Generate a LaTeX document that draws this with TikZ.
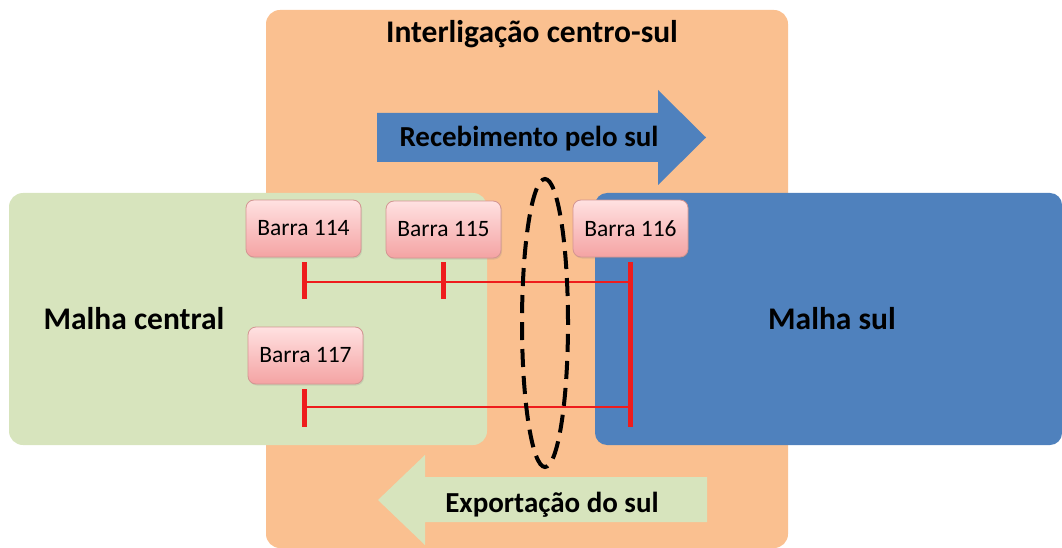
\documentclass[tikz,border=0pt]{standalone}
\usepackage{fontspec}
\setmainfont{Carlito}
\usetikzlibrary{shadows}
\definecolor{laranja}{HTML}{FAC090}
\definecolor{verde}{HTML}{D7E4BD}
\definecolor{azul}{HTML}{4F81BD}
\definecolor{rosaclaro}{HTML}{FFE1E1}
\definecolor{rosa}{HTML}{F4A3A3}
\definecolor{rosaborda}{HTML}{D39592}
\definecolor{vermelho}{HTML}{EE1C1C}
\tikzset{
	barra/.style={draw=rosaborda,line width=0.8pt,rounded corners=8pt,top color=rosaclaro,bottom color=rosa,
		drop shadow={opacity=0.2,shadow xshift=1pt,shadow yshift=-1.5pt},
		minimum width=115pt,minimum height=57pt,inner sep=0pt,font=\fontsize{23.5}{28}\selectfont},
	titulo/.style={anchor=base,inner sep=0pt,font=\fontsize{31.5}{36}\selectfont\bfseries},
	rotulo/.style={anchor=base,inner sep=0pt,font=\fontsize{29}{34}\selectfont\bfseries},
	bus/.style={draw=vermelho,line width=5pt},
	linha/.style={draw=vermelho,line width=2pt}
}
\begin{document}
\begin{tikzpicture}[x=1pt,y=-1pt]
			\useasboundingbox (0,0) rectangle (1062,548);
			% areas
			\fill[laranja,rounded corners=14pt] (266,10) rectangle (788,548);
			\fill[verde,rounded corners=14pt] (9,193) rectangle (487,445);
			\fill[azul,rounded corners=12pt] (595,193) rectangle (1062,445);
			% setas
			\fill[azul] (377,113) -- (658,113) -- (658,90) -- (706,137.5) -- (658,185) -- (658,162) -- (377,162) -- cycle;
			\fill[verde] (707,477) -- (425,477) -- (425,455) -- (378,500) -- (425,545) -- (425,522) -- (707,522) -- cycle;
			\node[titulo] (interlig) at (532,43) {Interligação centro-sul};
			\node[titulo] (central) at (134,329) {Malha central};
			\node[titulo] (sul) at (832,329) {Malha sul};
			\node[rotulo] (receb) at (529,146.5) {Recebimento pelo sul};
			\node[rotulo] (export) at (552,512) {Exportação do sul};
			% barras
			\node[barra] (b114) at (303.5,228.5) {Barra 114};
			\node[barra] (b115) at (443.5,229.5) {Barra 115};
			\node[barra] (b116) at (630.5,228.5) {Barra 116};
			\node[barra] (b117) at (305.5,355.5) {Barra 117};
			\coordinate (p114t) at (304,262);
			\coordinate (p114b) at (304,299);
			\coordinate (p114) at (304,282);
			\coordinate (p115t) at (443,262);
			\coordinate (p115b) at (443,299);
			\coordinate (p116t) at (630,262);
			\coordinate (p116b) at (630,427);
			\coordinate (p116) at (630,282);
			\coordinate (q116) at (630,407);
			\coordinate (p117t) at (304,389);
			\coordinate (p117b) at (304,427);
			\coordinate (p117) at (304,407);
			\draw[linha] (p114) -- (p116);
			\draw[linha] (p117) -- (q116);
			\draw[bus] (p114t) -- (p114b);
			\draw[bus] (p115t) -- (p115b);
			\draw[bus] (p116t) -- (p116b);
			\draw[bus] (p117t) -- (p117b);
			% corte
			\draw[line width=4pt,dash pattern=on 18pt off 9pt] (545,323) ellipse [x radius=23pt,y radius=144pt];
		\end{tikzpicture}
\end{document}
